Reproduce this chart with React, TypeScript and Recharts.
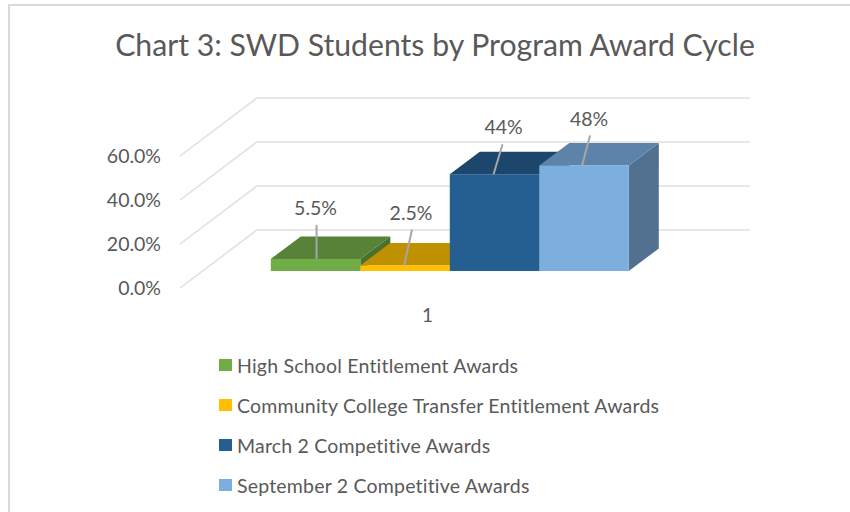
import React from 'react';
import { BarChart, Bar, XAxis, YAxis, CartesianGrid, Legend, LabelList } from 'recharts';

const categories = ['1'];
const highSchool = [5.5];
const ccTransfer = [2.5];
const marchComp = [44];
const septemberComp = [48];
const yTicks = [0, 20, 40, 60];

const chartData = categories.map((name, i) => ({
  name,
  highSchool: highSchool[i],
  ccTransfer: ccTransfer[i],
  marchComp: marchComp[i],
  septemberComp: septemberComp[i],
}));

const FONT = 'Lato, sans-serif';
const TEXT = '#595959';
const GRID = '#dfdfdf';

// the fake 3D: bars sit part way into the floor, the walls are at full depth
const WALL_DX = 77;
const WALL_DY = -58;
const BAR_DX = 22.8;
const BAR_DY = -17;
const DEPTH_X = 30;
const DEPTH_Y = -22.5;

const SERIES = [
  { key: 'highSchool', name: 'High School Entitlement Awards', front: '#70ad47', top: '#578238', side: '#4a7030', leader: [1, 1, -34], text: [0, -51] },
  { key: 'ccTransfer', name: 'Community College Transfer Entitlement Awards', front: '#ffc000', top: '#bf9000', side: '#a57c00', leader: [-1, 7, -36], text: [6, -53] },
  { key: 'marchComp', name: 'March 2 Competitive Awards', front: '#255e91', top: '#1c466c', side: '#1d4b73', leader: [-1, 8, -30], text: [9, -48] },
  { key: 'septemberComp', name: 'September 2 Competitive Awards', front: '#7cafde', top: '#5d83a8', side: '#527090', leader: [-2, 6, -30], text: [5, -47] },
];

function Bar3D(props: any) {
  const { x, y, width, height, fill, top, side } = props;
  const fx = x + BAR_DX;
  const fy = y + BAR_DY;
  const r = fx + width;
  const b = fy + height;
  return (
    <g>
      <polygon points={`${r},${fy} ${r + DEPTH_X},${fy + DEPTH_Y} ${r + DEPTH_X},${b + DEPTH_Y} ${r},${b}`} fill={side} />
      <polygon points={`${fx},${fy} ${fx + DEPTH_X},${fy + DEPTH_Y} ${r + DEPTH_X},${fy + DEPTH_Y} ${r},${fy}`} fill={top} />
      <rect x={fx} y={fy} width={width} height={height} fill={fill} />
    </g>
  );
}

const barLabel = (s: any) => (props: any) => {
  const { x, y, width, value } = props;
  const cx = x + BAR_DX + width / 2;
  const fy = y + BAR_DY;
  return (
    <g>
      <line x1={cx + s.leader[0]} y1={fy} x2={cx + s.leader[1]} y2={fy + s.leader[2]} stroke="#a6a6a6" strokeWidth={2} />
      <text x={cx + s.text[0]} y={fy + s.text[1]} textAnchor="middle" dominantBaseline="central" fontFamily={FONT} fontSize={19.5} fill={TEXT}>
        {`${value}%`}
      </text>
    </g>
  );
};

const gridLine = (props: any) => {
  const { x1, x2, y1 } = props;
  return (
    <path
      key={y1}
      d={`M${x1},${y1} L${x1 + WALL_DX},${y1 + WALL_DY} L${x2 + WALL_DX},${y1 + WALL_DY}`}
      fill="none"
      stroke={GRID}
      strokeWidth={1.5}
    />
  );
};

function LegendList({ payload }: any) {
  return (
    <div>
      {(payload || []).map((p: any) => (
        <div key={p.value} style={{ height: 40, display: 'flex', alignItems: 'center', fontFamily: FONT, fontSize: 19.5, letterSpacing: 0.2, color: TEXT, whiteSpace: 'nowrap' }}>
          <span style={{ width: 12.5, height: 12.5, background: p.color, marginRight: 5.5, flex: 'none' }} />
          {p.value}
        </div>
      ))}
    </div>
  );
}

export default function App() {
  return (
    <div style={{ position: 'absolute', left: 0, top: 0, width: 850, height: 512, background: '#fff', overflow: 'hidden' }}>
      <div style={{ position: 'absolute', left: 8, top: 4, right: 0, bottom: 0, borderLeft: '2px solid #d9d9d9', borderTop: '2px solid #d9d9d9' }} />
      <div style={{ position: 'absolute', left: 0, width: 870, top: 26, textAlign: 'center', fontFamily: FONT, fontSize: 30.2, color: TEXT, whiteSpace: 'nowrap' }}>
        Chart 3: SWD Students by Program Award Cycle
      </div>
      <BarChart
        width={850}
        height={512}
        data={chartData}
        barSize={89.5}
        barGap={0}
        margin={{ top: 156, right: 177, bottom: 194, left: 120 }}
        style={{ position: 'absolute', left: 0, top: 0 }}
      >
        <CartesianGrid vertical={false} horizontal={gridLine} />
        <XAxis
          dataKey="name"
          height={30}
          axisLine={false}
          tickLine={false}
          tickMargin={15}
          tick={{ fontFamily: FONT, fontSize: 19, fill: TEXT, dx: 1 }}
        />
        <YAxis
          width={60}
          domain={[0, 60]}
          ticks={yTicks}
          axisLine={false}
          tickLine={false}
          tickSize={0}
          tickMargin={19}
          tickFormatter={(v: number) => `${v.toFixed(1)}%`}
          tick={{ fontFamily: FONT, fontSize: 19.5, fill: TEXT, dy: 0.5 }}
        />
        <Legend
          layout="vertical"
          align="center"
          verticalAlign="middle"
          itemSorter={null}
          content={<LegendList />}
          wrapperStyle={{ left: 219, top: 345, width: 560 }}
        />
        {SERIES.map((s) => (
          <Bar
            key={s.key}
            dataKey={s.key}
            name={s.name}
            fill={s.front}
            isAnimationActive={false}
            shape={(p: any) => <Bar3D {...p} top={s.top} side={s.side} />}
          >
            <LabelList dataKey={s.key} content={barLabel(s)} />
          </Bar>
        ))}
      </BarChart>
    </div>
  );
}
